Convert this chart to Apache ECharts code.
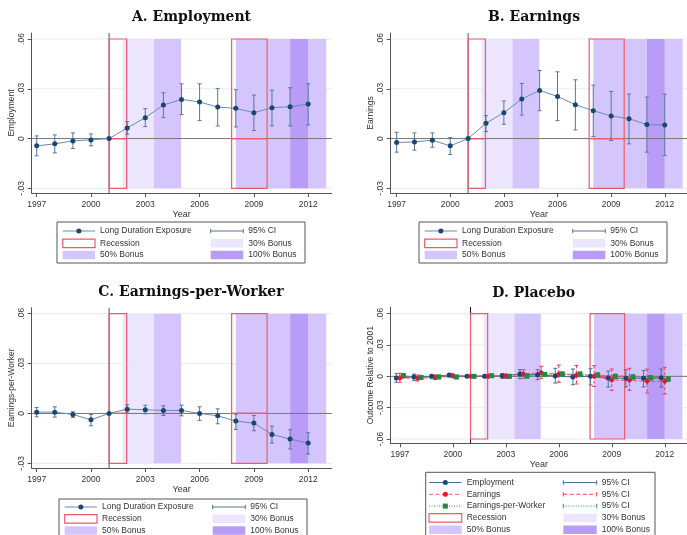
<!DOCTYPE html>
<html><head><meta charset="utf-8">
<script src="https://cdn.jsdelivr.net/npm/echarts@6/dist/echarts.min.js"></script>
<style>html,body{margin:0;padding:0;background:#fff}#c{width:687px;height:535px}</style>
</head><body><div id="c"></div>
<script>
// ---------- data ----------
const years = [1997,1998,1999,2000,2001,2002,2003,2004,2005,2006,2007,2008,2009,2010,2011,2012];
const xTicks = [1997,2000,2003,2006,2009,2012];
const yTicksABC = [-0.03,0,0.03,0.06];
const yTicksD = [-0.06,-0.03,0,0.03,0.06];

// Panel A: Employment
const empPoint = [-0.0044,-0.0032,-0.0014,-0.0008,0,0.0064,0.0126,0.0202,0.0236,0.0220,0.0190,0.0182,0.0156,0.0186,0.0192,0.0208];
const empLow   = [-0.0104,-0.0086,-0.0060,-0.0044,null,0.0026,0.0072,0.0126,0.0144,0.0108,0.0076,0.0070,0.0048,0.0076,0.0076,0.0082];
const empHigh  = [0.0016,0.0022,0.0034,0.0028,null,0.0102,0.0180,0.0276,0.0330,0.0330,0.0302,0.0294,0.0262,0.0292,0.0306,0.0330];
// Panel B: Earnings
const earnPoint = [-0.0024,-0.0020,-0.0010,-0.0044,0,0.0092,0.0156,0.0238,0.0290,0.0254,0.0204,0.0168,0.0136,0.0120,0.0084,0.0082];
const earnLow   = [-0.0082,-0.0070,-0.0052,-0.0096,null,0.0042,0.0086,0.0142,0.0168,0.0108,0.0052,0.0012,-0.0012,-0.0032,-0.0082,-0.0102];
const earnHigh  = [0.0038,0.0034,0.0034,0.0006,null,0.0138,0.0226,0.0332,0.0410,0.0402,0.0354,0.0322,0.0284,0.0268,0.0250,0.0268];
// Panel C: Earnings-per-Worker
const epwPoint = [0.0008,0.0008,-0.0006,-0.0038,0,0.0026,0.0022,0.0018,0.0018,0,-0.0014,-0.0046,-0.0058,-0.0126,-0.0154,-0.0178];
const epwLow   = [-0.0020,-0.0022,-0.0024,-0.0074,null,0.0002,-0.0002,-0.0012,-0.0014,-0.0042,-0.0062,-0.0096,-0.0104,-0.0178,-0.0214,-0.0244];
const epwHigh  = [0.0036,0.0040,0.0010,-0.0006,null,0.0052,0.0050,0.0046,0.0050,0.0040,0.0028,-0.0004,-0.0012,-0.0076,-0.0098,-0.0116];
// Panel D: Placebo
const plEmpPoint = [-0.0016,-0.0006,0,0.0013,0,0,0.0006,0.0022,0.0016,0.0003,-0.0006,0,-0.0016,-0.0019,-0.0019,-0.0013];
const plEmpLow   = [-0.0057,-0.0041,-0.0022,-0.0006,null,-0.0013,-0.0019,-0.0022,-0.0032,-0.0064,-0.0080,-0.0083,-0.0102,-0.0102,-0.0102,-0.0102];
const plEmpHigh  = [0.0026,0.0022,0.0019,0.0026,null,0.0013,0.0026,0.0064,0.0064,0.0077,0.0070,0.0073,0.0051,0.0064,0.0057,0.0070];
const plEarnPoint = [-0.0016,-0.0019,-0.0010,0.0006,0,0,0.0003,0.0022,0.0038,0.0022,0.0013,0,-0.0035,-0.0038,-0.0048,-0.0048];
const plEarnLow   = [-0.0057,-0.0045,-0.0029,-0.0013,null,-0.0013,-0.0019,-0.0019,-0.0019,-0.0057,-0.0073,-0.0096,-0.0134,-0.0134,-0.0160,-0.0169];
const plEarnHigh  = [0.0029,0.0013,0.0013,0.0022,null,0.0013,0.0022,0.0064,0.0096,0.0108,0.0105,0.0102,0.0070,0.0077,0.0070,0.0086];
const plEpwPoint = [0.0006,-0.0010,-0.0006,-0.0006,0,0.0006,0,0.0003,0.0019,0.0022,0.0022,0.0013,0,-0.0006,-0.0013,-0.0026];
const plEpwLow   = [-0.0014,-0.0028,-0.0024,-0.0022,null,-0.0010,-0.0016,-0.0016,0.0001,0.0002,0.0003,-0.0007,-0.0021,-0.0027,-0.0034,-0.0048];
const plEpwHigh  = [0.0026,0.0008,0.0012,0.0010,null,0.0022,0.0016,0.0022,0.0037,0.0042,0.0041,0.0033,0.0021,0.0015,0.0008,-0.0004];

const recessions = [[2001.0, 2001.97],[2007.77, 2009.73]];
const bonus30  = [[2001.75, 2003.48]];
const bonus50  = [[2003.48, 2004.98],[2008.0, 2011.0],[2012.0, 2013.0]];
const bonus100 = [[2011.0, 2012.0]];

// ---------- styles ----------
const C30 = '#ebe5fd', C50 = '#d4c6fc', C100 = '#b99cf8';
const REC = '#ef5a6a';
const NAVY = '#1a476f', LINEB = '#6a8bb3', CIB = '#56779c';
const FONT = '"Liberation Sans", Arial, sans-serif';
const TXT = '#333';

const panels = [
  {title:'A. Employment', name:'Employment', grid:{left:31.7,top:33,width:300,height:160}, xmin:1996.724, xmax:2013.299, ymin:-0.0328, ymax:0.0636, ticks:yTicksABC, band:[-0.03,0.06], tx:186.5, ty:5},
  {title:'B. Earnings', name:'Earnings', grid:{left:390.7,top:33,width:300,height:160}, xmin:1996.669, xmax:2013.244, ymin:-0.0328, ymax:0.0636, ticks:yTicksABC, band:[-0.03,0.06], tx:529, ty:5},
  {title:'C. Earnings-per-Worker', name:'Earnings-per-Worker', grid:{left:31.7,top:307.7,width:300,height:160.3}, xmin:1996.724, xmax:2013.299, ymin:-0.0328, ymax:0.0636, ticks:yTicksABC, band:[-0.03,0.06], tx:186, ty:280},
  {title:'D. Placebo', name:'Outcome Relative to 2001', grid:{left:390.7,top:307,width:300,height:136.3}, xmin:1996.48, xmax:2013.26, ymin:-0.0641, ymax:0.0664, ticks:yTicksD, band:[-0.06,0.06], tx:528.7, ty:281}
];

function fmt(v){ if (Math.abs(v) < 1e-9) return '0'; return (v<0?'-':'') + Math.abs(v).toFixed(2).replace(/^0/,''); }

const grid=[], xAxis=[], yAxis=[], series=[], title=[];

function bandSeries(gi, bands, color, y0, y1){
  return {type:'custom', xAxisIndex:gi, yAxisIndex:gi, z:1, silent:true, data:bands,
    renderItem:(p,api)=>{
      const a=api.coord([api.value(0), y1]), b=api.coord([api.value(1), y0]);
      return {type:'rect', shape:{x:a[0],y:a[1],width:b[0]-a[0],height:b[1]-a[1]}, style:{fill:color}};
    }};
}
function ciSeries(gi, xs, lo, hi, color, dash, z){
  const data=[]; xs.forEach((x,i)=>{ if(lo[i]!=null) data.push([x, lo[i], hi[i]]); });
  return {type:'custom', xAxisIndex:gi, yAxisIndex:gi, z:z||4, silent:true, data,
    renderItem:(p,api)=>{
      const x=api.value(0), a=api.coord([x, api.value(2)]), b=api.coord([x, api.value(1)]), w=2;
      const st={stroke:color, lineWidth:1, lineDash:dash||null};
      const st2={stroke:color, lineWidth:1};
      return {type:'group', children:[
        {type:'line', shape:{x1:a[0],y1:a[1],x2:b[0],y2:b[1]}, style:st},
        {type:'line', shape:{x1:a[0]-w,y1:a[1],x2:a[0]+w,y2:a[1]}, style:st2},
        {type:'line', shape:{x1:b[0]-w,y1:b[1],x2:b[0]+w,y2:b[1]}, style:st2}
      ]};
    }};
}

panels.forEach((P,gi)=>{
  grid.push(Object.assign({containLabel:false}, P.grid));
  title.push({text:P.title, left:P.tx, top:P.ty, textAlign:'center',
    textStyle:{fontFamily:'"DejaVu Serif", serif', fontWeight:'bold', fontSize:14, color:'#111'}});
  xAxis.push({type:'value', gridIndex:gi, min:P.xmin, max:P.xmax, name:'Year', nameLocation:'middle', nameGap:16,
    nameTextStyle:{fontFamily:FONT, fontSize:9, color:TXT},
    axisLine:{onZero:false, lineStyle:{color:'#555', width:1}},
    axisTick:{show:true, customValues:xTicks, length:4, lineStyle:{color:'#555'}},
    axisLabel:{customValues:xTicks, fontFamily:FONT, fontSize:8.5, color:TXT, margin:7, formatter:v=>String(Math.round(v))},
    splitLine:{show:false}});
  yAxis.push({type:'value', gridIndex:gi, min:P.ymin, max:P.ymax, name:P.name, nameLocation:'middle', nameGap:16,
    nameTextStyle:{fontFamily:FONT, fontSize:8.5, color:TXT},
    axisLine:{show:true, onZero:false, lineStyle:{color:'#555', width:1}},
    axisTick:{show:true, customValues:P.ticks, length:4, lineStyle:{color:'#555'}},
    axisLabel:{customValues:P.ticks, rotate:90, fontFamily:FONT, fontSize:8.5, color:TXT, margin:6, formatter:fmt},
    splitLine:{show:false}});
  const [b0,b1]=P.band;
  // faint gridlines
  series.push({type:'custom', xAxisIndex:gi, yAxisIndex:gi, z:0, silent:true, data:P.ticks.map(v=>[P.xmin, v]),
    renderItem:(p,api)=>{ const cs=p.coordSys; const y=api.coord([P.xmin, api.value(1)])[1];
      return {type:'line', shape:{x1:cs.x,y1:y,x2:cs.x+cs.width,y2:y}, style:{stroke:'#e3edf0', lineWidth:1}}; }});
  series.push(bandSeries(gi, bonus30, C30, b0, b1));
  series.push(bandSeries(gi, bonus50, C50, b0, b1));
  series.push(bandSeries(gi, bonus100, C100, b0, b1));
  // zero line and 2001 line
  series.push({type:'custom', xAxisIndex:gi, yAxisIndex:gi, z:2, silent:true, data:[[2001, 0]],
    renderItem:(p,api)=>{ const cs=p.coordSys; const pt=api.coord([api.value(0), api.value(1)]);
      return {type:'group', children:[
        {type:'line', shape:{x1:cs.x,y1:pt[1],x2:cs.x+cs.width,y2:pt[1]}, style:{stroke:'#777', lineWidth:1}},
        {type:'line', shape:{x1:pt[0],y1:cs.y,x2:pt[0],y2:cs.y+cs.height}, style:{stroke: gi===3?'#111':'#555', lineWidth:1}}
      ]}; }});
  // recession boxes
  series.push({type:'custom', xAxisIndex:gi, yAxisIndex:gi, z:3, silent:true, data:recessions,
    renderItem:(p,api)=>{
      const a=api.coord([api.value(0), b1]), m=api.coord([api.value(1), 0]), b=api.coord([api.value(1), b0]);
      const st={fill:null, stroke:REC, lineWidth:1.2};
      return {type:'group', children:[
        {type:'rect', shape:{x:a[0],y:a[1],width:m[0]-a[0],height:m[1]-a[1]}, style:st},
        {type:'rect', shape:{x:a[0],y:m[1],width:b[0]-a[0],height:b[1]-m[1]}, style:st}
      ]};
    }});
});

function pointSeries(gi, xs, ys, sym, size, color, lineColor, lineType){
  return {type:'line', xAxisIndex:gi, yAxisIndex:gi, z:5, silent:true, animation:false,
    data: xs.map((x,i)=>[x, ys[i]]), symbol:sym, symbolSize:size, showSymbol:true,
    itemStyle:{color:color}, lineStyle:{color:lineColor, width:1, type:lineType||'solid'}};
}

[[empPoint,empLow,empHigh],[earnPoint,earnLow,earnHigh],[epwPoint,epwLow,epwHigh]].forEach((d,gi)=>{
  series.push(ciSeries(gi, years, d[1], d[2], CIB));
  series.push(pointSeries(gi, years, d[0], 'circle', 5, NAVY, LINEB));
});

// Placebo panel with small horizontal offsets
const OFF_EMP = -0.2, OFF_EPW = 0.2;
const xsEmp = years.map(y=>y+OFF_EMP), xsEpw = years.map(y=>y+OFF_EPW);
series.push(ciSeries(3, xsEmp, plEmpLow, plEmpHigh, '#4d6fa0', null, 4));
series.push(ciSeries(3, years, plEarnLow, plEarnHigh, '#f03a5a', [3,2], 4));
series.push(ciSeries(3, xsEpw, plEpwLow, plEpwHigh, '#3a9a50', [1,1.5], 4));
series.push(pointSeries(3, xsEmp, plEmpPoint, 'circle', 5, NAVY, '#4d6f9a'));
series.push(pointSeries(3, years, plEarnPoint, 'diamond', 6, '#e3143c', '#f05060', 'dashed'));
series.push(pointSeries(3, xsEpw, plEpwPoint, 'rect', 5, '#208a40', '#2f9a4a', 'dotted'));

// ---------- legends (graphic) ----------
const G=[];
function txt(x,y,s){ G.push({type:'text', x:x, y:y, style:{text:s, font:'8.5px '+FONT, fill:TXT, verticalAlign:'middle', align:'left'}, silent:true}); }
function box(x,y,w,h){ G.push({type:'rect', shape:{x,y,width:w,height:h}, style:{fill:'#fff', stroke:'#555', lineWidth:1}, silent:true}); }
function swatch(kind, x1, x2, y){
  const h=8.5;
  if (kind==='rec') G.push({type:'rect', shape:{x:x1,y:y-h/2,width:x2-x1,height:h}, style:{fill:'#fff', stroke:REC, lineWidth:1.2}});
  else if (kind==='b30'||kind==='b50'||kind==='b100') G.push({type:'rect', shape:{x:x1,y:y-h/2,width:x2-x1,height:h}, style:{fill:{b30:C30,b50:C50,b100:C100}[kind]}});
  else {
    const cfg = {
      dotB:{c:LINEB, m:NAVY, sym:'circle', dash:null}, ciB:{c:CIB, dash:null, cap:true},
      dEmp:{c:'#4d6f9a', m:NAVY, sym:'circle', dash:null}, dEarn:{c:'#ff6070', m:'#ff1020', sym:'circle', dash:[4,2.5]},
      dEpw:{c:'#2f9a4a', m:'#1f8a3a', sym:'square', dash:[1,1.5]},
      ciEmp:{c:'#4d6fa0', dash:null, cap:true}, ciEarn:{c:'#ff4058', dash:[4,2.5], cap:true}, ciEpw:{c:'#3a9a50', dash:[1,1.5], cap:true}
    }[kind];
    G.push({type:'line', shape:{x1:x1,y1:y,x2:x2,y2:y}, style:{stroke:cfg.c, lineWidth:1, lineDash:cfg.dash}});
    if (cfg.cap){
      G.push({type:'line', shape:{x1:x1,y1:y-2.2,x2:x1,y2:y+2.2}, style:{stroke:cfg.c, lineWidth:1}});
      G.push({type:'line', shape:{x1:x2,y1:y-2.2,x2:x2,y2:y+2.2}, style:{stroke:cfg.c, lineWidth:1}});
    }
    if (cfg.sym==='circle') G.push({type:'circle', shape:{cx:(x1+x2)/2, cy:y, r:2.5}, style:{fill:cfg.m}});
    if (cfg.sym==='square') G.push({type:'rect', shape:{x:(x1+x2)/2-2.5, y:y-2.5, width:5, height:5}, style:{fill:cfg.m}});
  }
}
function legend3(dx, top, rows){
  box(57+dx, top, 248, 41);
  const items=[['dotB','Long Duration Exposure','ciB','95% CI'],['rec','Recession','b30','30% Bonus'],['b50','50% Bonus','b100','100% Bonus']];
  items.forEach((it,i)=>{
    const y=rows[i];
    swatch(it[0], 62.7+dx, 95+dx, y); txt(100+dx, y, it[1]);
    swatch(it[2], 210.7+dx, 243.3+dx, y); txt(248.3+dx, y, it[3]);
  });
}
legend3(0, 222, [231, 243.3, 255]);
legend3(362, 222, [231, 243.3, 255]);
legend3(2, 499, [507, 518.8, 530.6]);
// panel D legend
box(425.7, 472.3, 229.3, 68);
const dItems=[['dEmp','Employment','ciEmp','95% CI'],['dEarn','Earnings','ciEarn','95% CI'],['dEpw','Earnings-per-Worker','ciEpw','95% CI'],['rec','Recession','b30','30% Bonus'],['b50','50% Bonus','b100','100% Bonus']];
dItems.forEach((it,i)=>{
  const y=482.5+i*11.8;
  swatch(it[0], 429, 461.7, y); txt(466.7, y, it[1]);
  swatch(it[2], 563.3, 596.7, y); txt(601.7, y, it[3]);
});

const chart = echarts.init(document.getElementById('c'), null, {renderer:'canvas'});
chart.setOption({animation:false, backgroundColor:'#fff', title, grid, xAxis, yAxis, series, graphic:{elements:G}});
</script></body></html>
